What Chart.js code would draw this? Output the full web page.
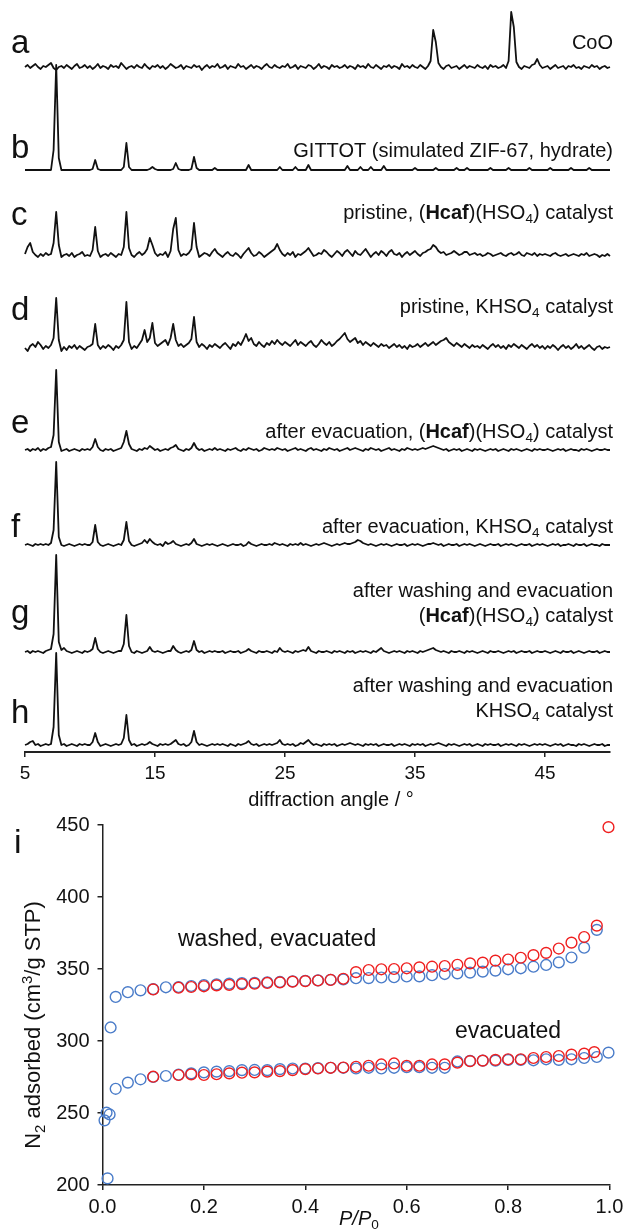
<!DOCTYPE html>
<html>
<head>
<meta charset="utf-8">
<script src="https://cdn.jsdelivr.net/npm/chart.js@4.4.1/dist/chart.umd.min.js"></script>
<style>
  html, body { margin: 0; padding: 0; background: #fff; }
  body { width: 630px; height: 1229px; position: relative; overflow: hidden; }
  canvas { position: absolute; left: 0; }
  #xrd { top: 0; }
  #iso { top: 805px; }
</style>
</head>
<body>
<canvas id="xrd" width="630" height="812"></canvas>
<canvas id="iso" width="630" height="424"></canvas>
<script>
// ---- XRD patterns: intensity above each trace's baseline, sampled every 0.2 deg from 5 to 50 ----
const xrdTicks = [5, 15, 25, 35, 45]
const xrdAngles = Array.from({ length: 226 }, (_, i) => +(5 + 0.2 * i).toFixed(1))

const xrdCoO = [
  0,2,-1,1,3, 0,-2,1,0,2, 4,-1,-3,0,1, -1,2,0,-2,1, 3,-1,0,2,-1,
  1,-2,0,3,-1, 1,0,-2,2,0, 1,-1,4,1,-2, 0,1,-1,2,0, -1,3,0,-2,1,
  0,2,-1,1,-2, 0,3,1,-1,0, 2,-2,1,0,-1, 2,0,1,-3,0, 2,-1,1,0,3,
  -1,0,2,-2,1, 0,-1,3,0,1, -2,0,2,-1,1, 0,-2,1,3,0, -1,2,0,-1,1,
  0,3,-1,0,2, -2,1,0,-1,2, 1,-2,0,3,-1, 1,0,-2,2,0, 1,-1,0,2,-1,
  1,0,-2,2,0, 1,-1,3,0,-1, 2,0,-2,1,0, 2,-1,1,0,-2, 3,0,1,-1,2,
  0,-1,2,0,-2, 1,6,37,25,4, 0,-2,1,2,-1, 0,1,-2,0,2, -1,1,0,-1,2,
  0,-1,1,-2,2, 0,1,-1,0,2, -1,6,55,40,5, 0,-2,1,0,-1, 2,3,8,2,-1,
  0,1,-2,0,2, -1,0,1,-2,1, 0,2,-1,0,-2, 1,0,-1,2,0, 1,-2,0,1,-1,
  0]
const xrdGittot = [
  0,0,0,0,0, 0,0,0,0,0, 0,20,105,12,0, 0,0,0,0,0, 0,0,0,0,0,
  0,1,10,1,0, 0,0,0,0,0, 0,0,0,3,27, 3,0,0,0,0, 0,0,0,1,3,
  1,0,0,0,0, 0,0,1,7,1, 0,0,0,0,1, 13,2,0,0,0, 0,0,0,2,0,
  0,0,0,0,0, 0,0,0,0,0, 0,5,0,0,0, 0,0,0,0,0, 0,0,0,3,0,
  0,0,0,0,3, 0,0,0,0,5, 0,0,0,0,0, 0,0,0,0,0, 0,0,0,0,4,
  0,0,0,0,3, 0,0,0,3,0, 0,0,0,4,0, 0,0,0,0,0, 0,0,0,0,0,
  2,0,0,0,0, 0,0,0,2,0, 0,0,0,0,0, 0,2,0,0,0, 2,0,0,0,0,
  0,0,0,0,2, 0,0,0,0,0, 0,2,0,0,0, 0,0,0,0,2, 0,0,0,0,0,
  0,0,2,0,0, 0,0,0,0,0, 2,0,0,0,0, 0,0,2,0,0, 0,0,0,0,0,
  0]
const xrdPristineHcaf = [
  1,8,12,3,0, -2,1,-1,2,0, 1,12,43,10,-2, 0,1,-1,2,-2, 0,1,3,-1,0,
  -1,5,28,4,-2, 0,1,-1,2,0, -2,1,0,8,43, 7,0,-2,1,3, 0,2,6,17,10,
  2,-1,1,0,3, -2,4,26,37,5, -1,1,0,2,6, 32,8,-2,0,2, 1,-1,3,6,2,
  0,-2,1,3,0, -1,2,0,-3,1, 4,7,2,-1,0, 3,1,-2,0,2, 4,6,11,5,1,
  -1,2,0,3,-2, 1,0,2,4,7, 3,-1,0,2,1, 5,3,0,-2,1, 4,2,-1,3,5,
  2,-1,4,1,0, 3,6,2,-2,1, 3,0,4,2,-1, 3,5,1,0,2, -2,1,3,0,2,
  4,1,-1,2,3, 5,6,10,8,4, 2,3,0,1,2, 4,2,0,1,3, 3,0,1,2,0,
  1,-1,0,2,1, -1,0,1,2,0, -1,1,2,0,1, 3,0,-1,2,1, 0,2,-1,1,0,
  1,0,-1,1,2, 0,-1,0,1,-1, 0,1,0,-1,1, 0,2,-1,0,1, 0,-2,0,-1,1,
  -1]
const xrdPristineK = [
  0,-3,2,4,1, 6,3,-1,2,0, 3,10,50,8,-3, 1,-2,2,0,3, -1,2,0,-2,1,
  2,4,24,3,-1, 2,0,3,1,-2, 2,0,3,8,46, 6,-1,2,0,4, 8,18,6,10,25,
  5,2,4,6,8, 3,10,24,8,2, 4,1,3,5,9, 31,6,1,4,2, -1,3,1,4,2,
  0,3,5,2,-1, 4,2,6,3,8, 14,7,10,4,2, 6,3,1,5,3, 7,4,8,5,3,
  6,4,2,5,8, 3,6,4,2,5, 7,3,1,4,8, 5,3,6,2,4, 7,9,12,15,9,
  6,8,10,5,7, 3,6,4,2,5, 3,1,4,2,3, 0,2,4,1,3, 0,2,-1,3,1,
  2,4,1,3,5, 2,4,6,3,5, 7,8,10,6,4, 2,5,3,1,4, 2,0,3,1,2,
  0,3,1,-1,2, 4,1,3,0,2, -1,3,1,4,2, 0,3,1,-1,2, 4,1,3,0,2,
  -1,2,0,3,1, -2,1,3,0,2, -1,1,4,0,2, -1,1,3,0,-2, 1,2,-1,1,0,
  1]
const xrdEvacHcaf = [
  0,1,-1,1,0, 2,-1,1,0,2, 3,15,80,8,-1, 0,1,-1,0,1, 0,-1,1,0,1,
  0,3,11,3,0, -1,1,0,1,-1, 0,1,2,8,19, 6,1,0,-1,1, 0,2,1,4,2,
  0,1,-1,0,1, 0,2,3,5,1, 0,-1,1,0,2, 7,2,0,1,-1, 0,1,0,2,0,
  1,0,-1,1,0, 1,2,0,-1,1, 0,2,1,0,1, -1,0,2,1,0, 1,0,2,1,0,
  1,-1,0,1,2, 0,1,0,-1,1, 2,0,1,0,-1, 1,0,2,1,0, 1,-1,0,1,2,
  0,1,2,1,0, -1,1,0,2,1, 0,1,-1,0,1, 2,0,1,0,-1, 1,0,2,1,0,
  1,0,1,2,1, 2,3,4,3,2, 1,0,1,-1,0, 1,0,1,-1,0, 1,0,-1,1,0,
  1,0,-1,0,1, 0,1,-1,0,1, 0,-1,1,0,1, 0,-1,0,1,0, -1,1,0,1,0,
  0,1,0,-1,0, 1,0,1,-1,0, 1,0,0,-1,1, 0,1,0,-1,0, 1,0,0,1,0,
  0]
const xrdEvacK = [
  0,1,0,-1,1, 0,1,0,1,0, 2,15,83,8,0, -1,0,1,0,-1, 0,1,0,1,0,
  0,3,20,3,0, -1,0,1,0,-1, 0,1,0,5,23, 4,0,-1,0,1, 2,5,2,6,3,
  1,0,1,-1,3, 1,2,4,1,0, -1,0,1,0,2, 6,1,0,-1,0, 1,0,1,0,-1,
  0,1,0,-1,0, 1,0,0,1,-1, 0,3,1,0,-1, 0,1,0,0,1, 0,2,1,0,1,
  0,-1,1,0,1, 0,2,0,1,0, -1,0,1,0,1, 2,1,0,-1,0, 1,0,1,2,1,
  1,2,3,5,4, 2,1,0,1,0, -1,0,1,0,1, 0,-1,0,1,0, 0,1,-1,0,1,
  0,1,0,-1,0, 1,1,2,1,0, 1,-1,0,1,0, 0,1,-1,0,1, 0,1,0,-1,0,
  1,0,-1,0,1, 0,0,1,-1,0, 1,0,1,0,-1, 0,1,0,0,1, -1,0,1,0,1,
  0,-1,0,1,0, 1,-1,0,0,1, 0,-1,1,0,0, 1,-1,0,1,0, 0,-1,1,0,0,
  0]
const xrdWashHcaf = [
  0,1,-1,1,0, 1,0,-1,1,2, 3,18,97,10,2, 4,1,0,-1,0, 1,0,-1,1,0,
  1,3,14,3,0, -1,0,1,0,-1, 0,1,1,8,37, 6,0,-1,1,0, -1,0,1,5,1,
  0,1,0,-1,0, 1,1,6,2,0, -1,0,1,0,2, 11,2,0,1,-1, 0,1,0,1,0,
  0,1,-1,0,1, 0,0,1,-1,0, 1,3,1,0,-1, 1,0,0,1,0, -1,1,0,4,1,
  0,1,0,-1,1, 0,1,2,1,5, 1,0,-1,1,0, 0,1,0,-1,1, 0,1,0,-1,1,
  0,1,-1,0,1, 0,1,0,-1,1, 0,2,4,1,0, -1,0,1,0,1, 0,-1,1,0,1,
  0,-1,1,0,1, 2,3,4,2,1, 0,1,0,-1,1, 0,0,1,0,-1, 1,0,1,0,-1,
  0,1,0,-1,1, 0,0,1,0,-1, 0,1,0,1,-1, 0,1,0,0,1, -1,0,1,0,0,
  1,0,-1,0,1, 0,-1,1,0,0, 1,-1,0,1,0, -1,0,1,0,0, 1,-1,0,1,0,
  0]
const xrdWashK = [
  0,1,3,4,0, 1,-1,0,1,0, 1,18,92,10,0, 1,-1,0,1,0, -1,1,0,1,0,
  0,3,12,3,-1, 0,1,0,-1,0, 1,0,1,7,30, 5,0,1,-1,0, 1,0,1,3,1,
  0,-1,1,0,1, 0,1,3,5,1, 0,1,-1,0,3, 14,3,0,1,0, -1,0,1,0,1,
  0,1,0,-1,1, 0,-1,1,0,1, 2,4,1,0,1, -1,0,1,0,1, 0,1,2,5,1,
  0,1,0,1,-1, 0,2,1,3,5, 2,0,1,0,-1, 1,0,1,0,1, -1,0,1,0,1,
  2,1,0,1,0, -1,1,0,1,0, 1,-1,0,1,0, 0,1,-1,0,1, 0,1,0,-1,1,
  0,1,0,1,-1, 0,1,0,1,2, 1,0,-1,1,0, 1,0,-1,0,1, 0,1,-1,0,1,
  0,-1,1,0,1, 0,0,1,-1,0, 1,0,1,0,-1, 1,0,1,0,-1, 0,1,0,1,0,
  1,0,-1,0,1, 0,1,-1,0,1, 0,0,-1,1,0, 1,0,-1,0,1, 0,0,1,-1,0,
  0]

const traceLetters = ['a', 'b', 'c', 'd', 'e', 'f', 'g', 'h']
const traceLabels = [
  [[['CoO']]],
  [[['GITTOT (simulated ZIF-67, hydrate)']]],
  [[['pristine, ('], ['Hcaf', 'b'], [')(HSO'], ['4', 'sub'], [') catalyst']]],
  [[['pristine, KHSO'], ['4', 'sub'], [' catalyst']]],
  [[['after evacuation, ('], ['Hcaf', 'b'], [')(HSO'], ['4', 'sub'], [') catalyst']]],
  [[['after evacuation, KHSO'], ['4', 'sub'], [' catalyst']]],
  [[['after washing and evacuation']], [['('], ['Hcaf', 'b'], [')(HSO'], ['4', 'sub'], [') catalyst']]],
  [[['after washing and evacuation']], [['KHSO'], ['4', 'sub'], [' catalyst']]],
]
const xrdTitle = 'diffraction angle / \u00b0'

// ---- N2 isotherms ----
const isoXTicks = [0, 0.2, 0.4, 0.6, 0.8, 1.0]
const isoYTicks = [200, 250, 300, 350, 400, 450]

const washedBlueP = [0.016, 0.026, 0.05, 0.075, 0.1, 0.125, 0.15, 0.175, 0.2, 0.225, 0.25, 0.275, 0.3, 0.325, 0.35, 0.375, 0.4, 0.425, 0.45, 0.475,
  0.5, 0.525, 0.55, 0.575, 0.6, 0.625, 0.65, 0.675, 0.7, 0.725, 0.75, 0.775, 0.8, 0.825, 0.85, 0.875, 0.9, 0.925, 0.95, 0.975]
const washedBlueV = [309.4, 330.6, 333.9, 335.2, 336.0, 337.3, 337.5, 338.2, 338.8, 339.3, 339.8, 340.2, 340.4, 340.8, 341.0, 341.4, 341.8, 342.1, 342.5, 342.8,
  343.6, 343.7, 344.1, 344.3, 344.8, 344.9, 345.7, 346.5, 347.0, 347.5, 348.2, 348.9, 349.8, 350.5, 351.6, 352.8, 354.6, 358.0, 364.8, 377.2]
const washedRedP = [0.1, 0.15, 0.175, 0.2, 0.225, 0.25, 0.275, 0.3, 0.325, 0.35, 0.375, 0.4, 0.425, 0.45, 0.475,
  0.5, 0.525, 0.55, 0.575, 0.6, 0.625, 0.65, 0.675, 0.7, 0.725, 0.75, 0.775, 0.8, 0.825, 0.85, 0.875, 0.9, 0.925, 0.95, 0.975, 0.998]
const washedRedV = [335.8, 337.0, 337.5, 338.0, 338.6, 339.0, 339.5, 339.8, 340.3, 340.7, 341.2, 341.6, 342.0, 342.4, 343.2,
  347.8, 349.3, 349.8, 350.0, 350.5, 351.1, 351.6, 352.1, 352.9, 353.9, 354.4, 355.8, 356.6, 357.8, 359.6, 361.2, 364.2, 368.3, 372.2, 380.1, 448.5]
const evacBlueP = [0.004, 0.008, 0.010, 0.014, 0.026, 0.05, 0.075, 0.1, 0.125, 0.15, 0.175, 0.2, 0.225, 0.25, 0.275, 0.3, 0.325, 0.35, 0.375, 0.4, 0.425, 0.45, 0.475,
  0.5, 0.525, 0.55, 0.575, 0.6, 0.625, 0.65, 0.675, 0.7, 0.725, 0.75, 0.775, 0.8, 0.825, 0.85, 0.875, 0.9, 0.925, 0.95, 0.975, 0.998]
const evacBlueV = [244.9, 250.2, 204.6, 249.0, 266.8, 271.1, 273.4, 275.0, 275.7, 276.6, 277.5, 278.2, 278.7, 279.1, 279.8, 279.9, 279.8, 280.5, 280.9, 280.9, 281.2, 281.4, 281.4,
  280.9, 281.4, 280.9, 281.4, 281.8, 281.8, 281.4, 281.4, 285.8, 286.2, 286.4, 286.4, 286.9, 286.9, 286.6, 287.3, 286.9, 287.3, 288.2, 288.9, 291.9]
const evacRedP = [0.1, 0.15, 0.175, 0.2, 0.225, 0.25, 0.275, 0.3, 0.325, 0.35, 0.375, 0.4, 0.425, 0.45, 0.475,
  0.5, 0.525, 0.55, 0.575, 0.6, 0.625, 0.65, 0.675, 0.7, 0.725, 0.75, 0.775, 0.8, 0.825, 0.85, 0.875, 0.9, 0.925, 0.95, 0.97]
const evacRedV = [275.2, 276.4, 276.8, 276.4, 276.9, 277.5, 278.0, 278.2, 278.7, 279.1, 279.8, 280.5, 280.9, 281.4, 281.6,
  282.1, 282.8, 283.7, 284.4, 282.8, 282.8, 283.7, 283.8, 285.0, 286.0, 286.4, 286.9, 287.3, 287.3, 288.2, 288.9, 289.6, 290.5, 291.2, 292.3]

const isoLabels = ['washed, evacuated', 'evacuated']
const isoYTitle = [['N'], ['2', 'sub'], [' adsorbed (cm'], ['3', 'sup'], ['/g STP)']]
const isoXTitle = [['P/P', 'i'], ['0', 'sub']]

// ---- layout ----
const FONT = '"Liberation Sans", Arial, Helvetica, sans-serif'
const INK = '#111'
const RED = '#ef1f1f'
const BLUE = '#4a7cc9'
const traceBase = [67, 170, 255, 348, 450, 545, 652, 745]
const letterBase = [53, 158, 225, 320, 433, 537, 623, 723]
const labelBase = [[49], [157], [219], [313], [438], [533], [597, 622], [692, 717]]

Chart.defaults.font.family = FONT
Chart.defaults.color = INK

function fontFor(style, size) {
  const small = style === 'sub' || style === 'sup'
  return (style === 'i' ? 'italic ' : '') + (style === 'b' ? 'bold ' : '') + (small ? size * 0.68 : size) + 'px ' + FONT
}

function richWidth(ctx, runs, size) {
  let w = 0
  runs.forEach(([t, s]) => {
    ctx.font = fontFor(s, size)
    w += ctx.measureText(t).width
  })
  return w
}

function drawRich(ctx, runs, x, y, size, align) {
  const w = richWidth(ctx, runs, size)
  let cx = align === 'right' ? x - w : align === 'center' ? x - w / 2 : x
  ctx.textAlign = 'left'
  ctx.textBaseline = 'alphabetic'
  runs.forEach(([t, s]) => {
    ctx.font = fontFor(s, size)
    const dy = s === 'sub' ? size * 0.22 : s === 'sup' ? -size * 0.38 : 0
    ctx.fillText(t, cx, y + dy)
    cx += ctx.measureText(t).width
  })
}

const xrdText = {
  id: 'xrdText',
  afterDraw(chart) {
    const ctx = chart.ctx
    ctx.save()
    ctx.fillStyle = INK
    traceLetters.forEach((letter, t) => {
      ctx.font = '33px ' + FONT
      ctx.textAlign = 'left'
      ctx.textBaseline = 'alphabetic'
      ctx.fillText(letter, 11, letterBase[t])
      traceLabels[t].forEach((line, j) => drawRich(ctx, line, 613, labelBase[t][j], 20, 'right'))
    })
    ctx.font = '20px ' + FONT
    ctx.textAlign = 'center'
    ctx.fillText(xrdTitle, 331, 806)
    ctx.restore()
  },
}

const xrdTraces = [xrdCoO, xrdGittot, xrdPristineHcaf, xrdPristineK, xrdEvacHcaf, xrdEvacK, xrdWashHcaf, xrdWashK]

new Chart(document.getElementById('xrd'), {
  type: 'line',
  data: {
    datasets: xrdTraces.map((trace, t) => ({
      data: trace.map((v, i) => ({ x: xrdAngles[i], y: traceBase[t] - v })),
      borderColor: INK,
      borderWidth: 1.8,
      borderJoinStyle: 'round',
      pointRadius: 0,
      tension: 0,
      fill: false,
      clip: false,
    })),
  },
  options: {
    responsive: false,
    animation: false,
    devicePixelRatio: 1,
    layout: { padding: { left: 25, right: 20, top: 0, bottom: 0 } },
    plugins: { legend: { display: false }, tooltip: { enabled: false } },
    scales: {
      x: {
        type: 'linear',
        min: 5,
        max: 50,
        afterBuildTicks: (s) => { s.ticks = xrdTicks.map((v) => ({ value: v })) },
        afterFit: (s) => { s.height = 60 },
        ticks: { font: { size: 19 }, color: INK, padding: 5, maxRotation: 0, autoSkip: false },
        grid: { drawOnChartArea: false, tickLength: 5, color: '#222', lineWidth: 1.5 },
        border: { color: '#222', width: 2 },
      },
      y: { type: 'linear', min: 0, max: 752, reverse: true, display: false },
    },
  },
  plugins: [xrdText],
})

const isoText = {
  id: 'isoText',
  afterDraw(chart) {
    const ctx = chart.ctx
    ctx.save()
    ctx.fillStyle = INK
    ctx.textAlign = 'left'
    ctx.textBaseline = 'alphabetic'
    ctx.font = '34px ' + FONT
    ctx.fillText('i', 14, 48)
    ctx.font = '23px ' + FONT
    ctx.fillText(isoLabels[0], 178, 141)
    ctx.fillText(isoLabels[1], 455, 233)
    drawRich(ctx, isoXTitle, 339, 420, 20, 'left')
    ctx.translate(40, 220)
    ctx.rotate(-Math.PI / 2)
    drawRich(ctx, isoYTitle, 0, 0, 22, 'center')
    ctx.restore()
  },
}

const pts = (ps, vs) => ps.map((p, i) => ({ x: p, y: vs[i] }))
const ring = (color) => ({
  pointRadius: 5.4,
  pointBorderWidth: 1.4,
  pointBorderColor: color,
  borderColor: color,
  pointBackgroundColor: 'rgba(0,0,0,0)',
  backgroundColor: 'rgba(0,0,0,0)',
  showLine: false,
  clip: false,
})

new Chart(document.getElementById('iso'), {
  type: 'scatter',
  data: {
    datasets: [
      { data: pts(washedRedP, washedRedV), ...ring(RED) },
      { data: pts(evacRedP, evacRedV), ...ring(RED) },
      { data: pts(washedBlueP, washedBlueV), ...ring(BLUE) },
      { data: pts(evacBlueP, evacBlueV), ...ring(BLUE) },
    ],
  },
  options: {
    responsive: false,
    animation: false,
    devicePixelRatio: 1,
    layout: { padding: { left: 0, right: 20.5, top: 14.5, bottom: 0 } },
    plugins: { legend: { display: false }, tooltip: { enabled: false } },
    scales: {
      x: {
        type: 'linear',
        min: 0,
        max: 1,
        afterBuildTicks: (s) => { s.ticks = isoXTicks.map((v) => ({ value: v })) },
        afterFit: (s) => { s.height = 44 },
        ticks: { font: { size: 20 }, color: INK, padding: 5, maxRotation: 0, autoSkip: false, callback: (v) => v.toFixed(1) },
        grid: { drawOnChartArea: false, tickLength: 5, color: '#222', lineWidth: 1.5 },
        border: { color: '#222', width: 1.5 },
      },
      y: {
        type: 'linear',
        min: 200,
        max: 450,
        afterBuildTicks: (s) => { s.ticks = isoYTicks.map((v) => ({ value: v })) },
        afterFit: (s) => { s.width = 102.5 },
        ticks: { font: { size: 20 }, color: INK, padding: 8, autoSkip: false },
        grid: { drawOnChartArea: false, tickLength: 5, color: '#222', lineWidth: 1.5 },
        border: { color: '#222', width: 1.5 },
      },
    },
  },
  plugins: [isoText],
})
</script>
</body>
</html>
